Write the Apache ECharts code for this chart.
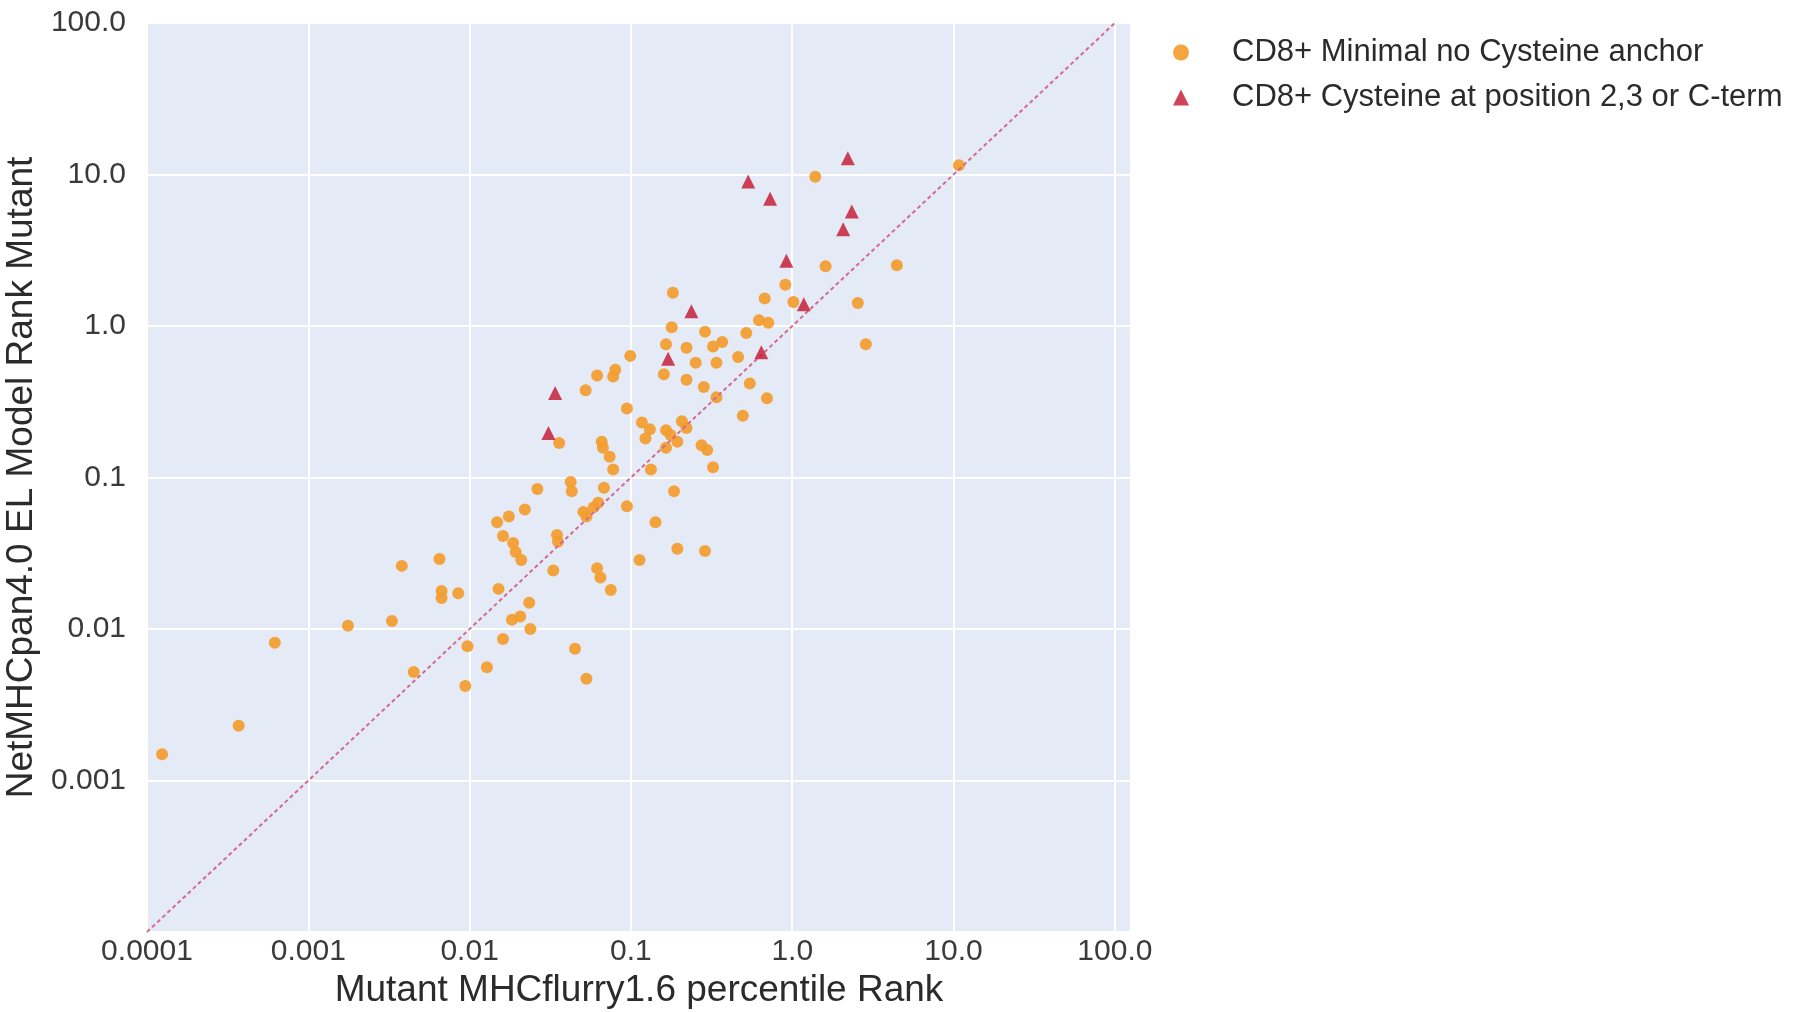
<!DOCTYPE html>
<html>
<head>
<meta charset="utf-8">
<script src="https://cdn.jsdelivr.net/npm/echarts@6/dist/echarts.min.js"></script>
<style>
html,body{margin:0;padding:0;background:#fff;}
#chart{width:1800px;height:1012px;}
</style>
</head>
<body>
<div id="chart"></div>
<script>
// ---- data ----
const seriesNames = ['CD8+ Minimal no Cysteine anchor', 'CD8+ Cysteine at position 2,3 or C-term'];

const orangeX = [1.24e-4, 3.7e-4, 6.2e-4, 1.76e-3, 3.3e-3, 3.8e-3, 4.5e-3, 6.5e-3, 6.7e-3, 6.7e-3,
  8.5e-3, 9.7e-3, 0.0128, 9.4e-3, 0.0151, 0.0234, 0.0183, 0.0206, 0.0238, 0.0161,
  0.045, 0.053, 0.033, 0.0617, 0.0647, 0.075, 0.0186, 0.0193, 0.0209,
  0.0359, 0.0524, 0.0617, 0.080, 0.0776, 0.0659, 0.067, 0.0738, 0.0776, 0.068,
  0.0423, 0.043, 0.0263, 0.022, 0.0175, 0.0148, 0.0161, 0.0507, 0.0587, 0.0627,
  0.053, 0.0348, 0.0353, 0.252, 0.339, 0.160, 0.221, 0.283, 0.339, 0.546,
  0.697, 0.494, 0.0944, 0.117, 0.131, 0.123, 0.165, 0.176, 0.207, 0.221,
  0.194, 0.165, 0.274, 0.297, 0.323, 0.133, 0.185, 0.0944, 0.142, 0.194,
  0.288, 0.113, 1.39, 0.182, 0.906, 0.675, 1.016, 0.179, 0.288, 0.622,
  0.71, 0.519, 0.165, 0.221, 0.323, 0.368, 0.462, 0.099, 10.8, 1.61,
  4.45, 2.55, 2.86];
const orangeY = [1.49e-3, 2.3e-3, 8.1e-3, 0.0105, 0.0113, 0.0261, 5.2e-3, 0.029, 0.0178, 0.016,
  0.0172, 7.7e-3, 5.6e-3, 4.2e-3, 0.0184, 0.0149, 0.0115, 0.0121, 0.0100, 8.6e-3,
  7.4e-3, 4.7e-3, 0.0243, 0.0252, 0.0219, 0.0181, 0.037, 0.0322, 0.0285,
  0.169, 0.377, 0.472, 0.515, 0.464, 0.172, 0.157, 0.137, 0.113, 0.0855,
  0.0933, 0.0811, 0.084, 0.0614, 0.0552, 0.0507, 0.0411, 0.0593, 0.0635, 0.0681,
  0.0552, 0.0418, 0.0377, 0.573, 0.573, 0.481, 0.441, 0.396, 0.339, 0.418,
  0.333, 0.256, 0.285, 0.231, 0.208, 0.181, 0.205, 0.191, 0.235, 0.212,
  0.172, 0.157, 0.163, 0.152, 0.117, 0.113, 0.0811, 0.0647, 0.0507, 0.0339,
  0.0327, 0.0285, 9.66, 1.66, 1.87, 1.52, 1.44, 0.982, 0.916, 1.09,
  1.05, 0.90, 0.757, 0.718, 0.731, 0.783, 0.624, 0.635, 11.5, 2.48,
  2.52, 1.42, 0.757];

const redX = [0.533, 0.729, 2.21, 2.34, 2.07, 0.92, 0.237, 1.18, 0.170, 0.643, 0.0339, 0.0308];
const redY = [9.0, 6.93, 12.8, 5.69, 4.35, 2.70, 1.25, 1.39, 0.607, 0.67, 0.361, 0.197];

const diagX = [0.0001, 100];
const diagY = [0.0001, 100];

const xTickLabels = ['0.0001', '0.001', '0.01', '0.1', '1.0', '10.0', '100.0']; // exponents -4..2
const yTickLabels = ['', '0.001', '0.01', '0.1', '1.0', '10.0', '100.0'];       // exponents -4..2

const xTitle = 'Mutant MHCflurry1.6 percentile Rank';
const yTitle = 'NetMHCpan4.0 EL Model Rank Mutant';

// ---- build ----
function zip(a, b) { return a.map((v, i) => [v, b[i]]); }
function logLabel(arr) {
  return function (v) {
    const e = Math.log10(v);
    const r = Math.round(e);
    if (Math.abs(e - r) > 0.01) return '';
    const idx = r + 4;
    return (idx >= 0 && idx < arr.length) ? arr[idx] : '';
  };
}

const FONT = '"Liberation Sans", Arial, sans-serif';
const chart = echarts.init(document.getElementById('chart'), null, {renderer: 'canvas'});

chart.setOption({
  animation: false,
  backgroundColor: '#ffffff',
  grid: {
    left: 147, right: 669, top: 23, bottom: 80,
    containLabel: false,
    outerBoundsMode: 'none',
    show: true, backgroundColor: '#E4EBF6', borderWidth: 0
  },
  legend: {
    orient: 'vertical',
    left: 1168, top: 32,
    itemWidth: 16, itemHeight: 16,
    itemGap: 14,
    textStyle: {fontFamily: FONT, fontSize: 31, color: '#2b2b2b', padding: [0, 0, 0, 38]},
    data: [
      {name: seriesNames[0], icon: 'circle', itemStyle: {color: '#F49C2E'}},
      {name: seriesNames[1], icon: 'triangle', itemStyle: {color: '#C4142E'}}
    ]
  },
  xAxis: {
    type: 'log', logBase: 10,
    min: 0.0001, max: 125.9,
    name: xTitle, nameLocation: 'middle', nameGap: 36,
    nameTextStyle: {fontFamily: FONT, fontSize: 37, color: '#2b2b2b', verticalAlign: 'top'},
    axisLine: {show: false}, axisTick: {show: false},
    axisLabel: {fontFamily: FONT, fontSize: 30, color: '#3a3a3a', margin: 5,
      formatter: logLabel(xTickLabels), showMaxLabel: false},
    splitLine: {show: true, lineStyle: {color: '#ffffff', width: 2}}
  },
  yAxis: {
    type: 'log', logBase: 10,
    min: 0.0001, max: 100,
    name: yTitle, nameLocation: 'middle', nameGap: 98, nameRotate: 90,
    nameTextStyle: {fontFamily: FONT, fontSize: 37, color: '#2b2b2b'},
    axisLine: {show: false}, axisTick: {show: false},
    axisLabel: {fontFamily: FONT, fontSize: 30, color: '#3a3a3a', margin: 21,
      formatter: logLabel(yTickLabels)},
    splitLine: {show: true, lineStyle: {color: '#ffffff', width: 2}}
  },
  series: [
    {
      name: 'diagonal', type: 'line',
      data: zip(diagX, diagY),
      symbol: 'none', silent: true,
      lineStyle: {color: '#D46A8E', width: 2, type: [4, 3]},
      z: 3
    },
    {
      name: seriesNames[0], type: 'scatter',
      data: zip(orangeX, orangeY),
      symbol: 'circle', symbolSize: 12,
      itemStyle: {color: '#F49C2E', opacity: 0.92},
      z: 2
    },
    {
      name: seriesNames[1], type: 'scatter',
      data: zip(redX, redY),
      symbol: 'triangle', symbolSize: 14,
      itemStyle: {color: '#C4142E'},
      z: 4
    }
  ]
});
</script>
</body>
</html>
